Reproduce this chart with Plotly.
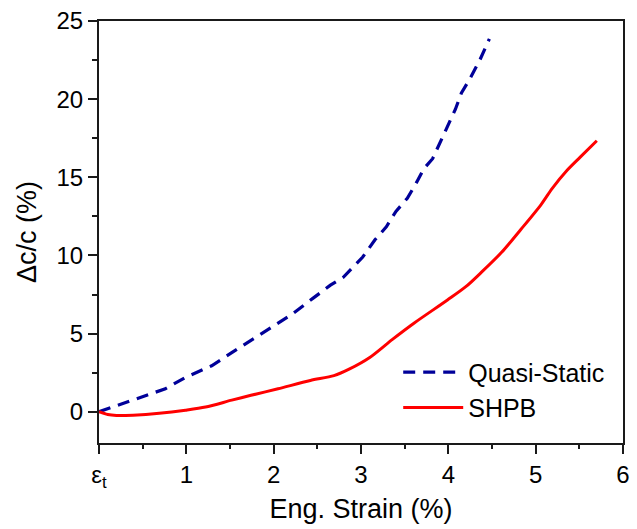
import plotly.graph_objects as go

# Quasi-Static (blue dashed)
qs_strain = [0.0, 0.27, 0.54, 0.76, 0.99, 1.29, 1.52, 1.82, 2.01, 2.20, 2.46, 2.65,
             2.80, 2.93, 3.02, 3.16, 3.29, 3.40, 3.53, 3.63, 3.72, 3.82, 3.91, 3.99,
             4.08, 4.15, 4.25, 4.36, 4.47]
qs_dc = [0.0, 0.53, 1.05, 1.47, 2.2, 2.94, 3.78, 4.84, 5.57, 6.2, 7.3, 8.1,
         8.62, 9.36, 9.9, 11.0, 11.83, 12.82, 13.66, 14.6, 15.55, 16.19, 17.24, 18.29,
         19.34, 20.39, 21.34, 22.49, 23.86]

# SHPB (red solid)
shpb_strain = [0.0, 0.1, 0.2, 0.39, 0.69, 0.99, 1.22, 1.52, 1.74, 2.05, 2.42, 2.69,
               2.87, 3.10, 3.36, 3.61, 3.99, 4.20, 4.38, 4.61, 4.83, 5.06, 5.19, 5.36,
               5.51, 5.70]
shpb_dc = [0.0, -0.18, -0.24, -0.22, -0.1, 0.1, 0.3, 0.74, 1.05, 1.47, 2.0, 2.31,
           2.74, 3.47, 4.63, 5.68, 7.15, 8.0, 8.93, 10.2, 11.66, 13.24, 14.29, 15.45,
           16.29, 17.34]

x_tickvals = [0, 1, 2, 3, 4, 5, 6]
x_ticktext = ["ε<sub>t</sub>", "1", "2", "3", "4", "5", "6"]
x_minor_tickvals = [0.5, 1.5, 2.5, 3.5, 4.5, 5.5]

font_family = "Liberation Sans, Arial, sans-serif"

fig = go.Figure()
fig.add_trace(go.Scatter(
    x=qs_strain, y=qs_dc, mode="lines", name="Quasi-Static",
    line=dict(color="#000099", width=3.2, dash="12px,8px"),
))
fig.add_trace(go.Scatter(
    x=shpb_strain, y=shpb_dc, mode="lines", name="SHPB",
    line=dict(color="#ff0000", width=3, shape="spline", smoothing=0.8),
))
# invisible helper trace so the minor-tick x axis is drawn
fig.add_trace(go.Scatter(
    x=shpb_strain, y=shpb_dc, mode="lines", xaxis="x2", showlegend=False,
    line=dict(color="rgba(0,0,0,0)", width=0), hoverinfo="skip",
))

tick_common = dict(ticks="outside", tickwidth=2, tickcolor="#1a1a1a")

fig.update_layout(
    width=637, height=529,
    margin=dict(l=99, r=7, t=15, b=86),
    paper_bgcolor="white", plot_bgcolor="white",
    font=dict(family=font_family, color="black"),
    xaxis=dict(
        range=[0, 6], tickmode="array", tickvals=x_tickvals, ticktext=x_ticktext,
        showline=True, linecolor="#1a1a1a", linewidth=2, mirror=True,
        showgrid=False, zeroline=False, ticklen=9, **tick_common,
        tickfont=dict(family=font_family, size=24, color="black"),
        title=dict(text="Eng. Strain (%)", font=dict(family=font_family, size=27), standoff=8),
    ),
    xaxis2=dict(
        range=[0, 6], overlaying="x", side="bottom", anchor="y",
        tickmode="array", tickvals=x_minor_tickvals, showticklabels=False,
        showline=False, showgrid=False, zeroline=False, ticklen=5, **tick_common,
    ),
    yaxis=dict(
        range=[-2, 25], tickmode="linear", tick0=0, dtick=5,
        showline=True, linecolor="#1a1a1a", linewidth=2, mirror=True,
        showgrid=False, zeroline=False, ticklen=9, **tick_common,
        tickfont=dict(family=font_family, size=24, color="black"),
        title=dict(text="Δc/c (%)", font=dict(family=font_family, size=27), standoff=12),
        minor=dict(ticks="outside", ticklen=5, tickwidth=2, tickcolor="#1a1a1a",
                   tick0=0, dtick=2.5, showgrid=False),
    ),
    legend=dict(
        x=0.571, y=0.222, xanchor="left", yanchor="top",
        bgcolor="rgba(0,0,0,0)", borderwidth=0,
        font=dict(family=font_family, size=25, color="black"),
        itemwidth=60, tracegroupgap=0,
    ),
    showlegend=True,
)

fig.write_html("out.html")
